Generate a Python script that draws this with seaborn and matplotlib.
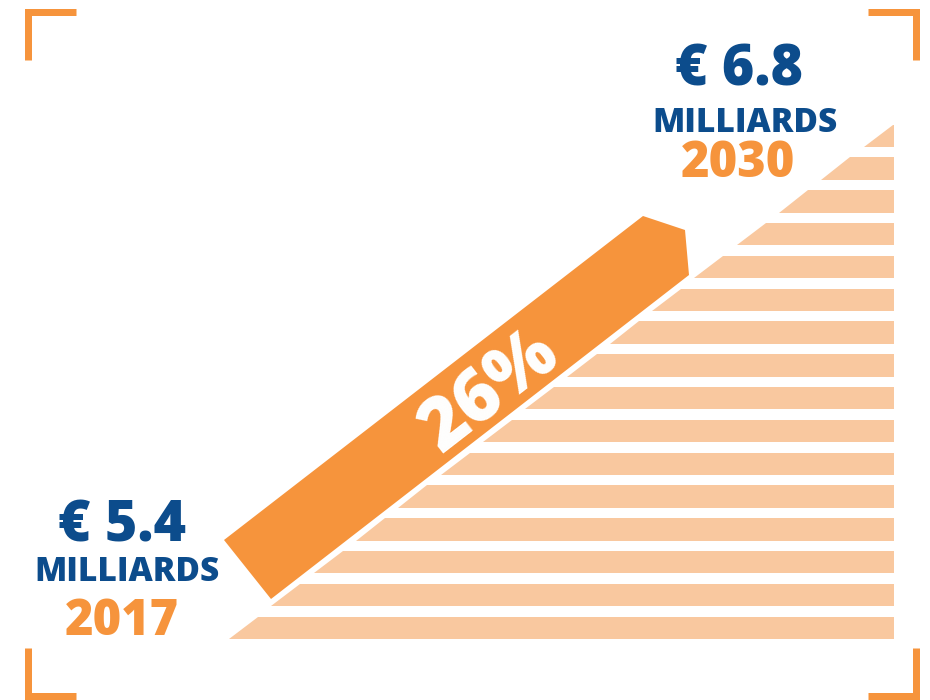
import numpy as np
import matplotlib
matplotlib.use("Agg")
import matplotlib.pyplot as plt
import seaborn as sns

# donnees du visuel
years = ["2017", "2030"]
amounts = ["€ 5.4", "€ 6.8"]
unit = "MILLIARDS"
growth = "26%"

# couleurs
blue = "#0c4c8c"
orange = "#f6943c"
light = "#f9c89f"

sns.set_theme(style="white")
plt.rcParams["font.family"] = ["Open Sans", "DejaVu Sans"]

fig = plt.figure(figsize=(9.3, 7), dpi=100)
ax = fig.add_axes([0, 0, 1, 1])
ax.set_xlim(0, 930)
ax.set_ylim(700, 0)
ax.axis("off")

# triangle de bandes (gauche sur la diagonale)
n_stripes = 16
x0, y0 = 229, 639      # bas gauche de la diagonale
slope = 1.29           # dx / dy
right = 894
top0, step, h = 124.5, 32.8, 22.5

def diag(y):
    return min(x0 + (y0 - y) * slope, right)

for i in range(n_stripes):
    t = top0 + i * step
    b = t + h
    xs = [diag(t), right, right, diag(b)]
    ys = [t, t, b, b]
    ax.fill(xs, ys, color=light, lw=0)

# fleche orange
arrow_x = [224, 643, 685, 689, 271]
arrow_y = [540, 216, 230, 275, 599]
ax.fill(arrow_x, arrow_y, color=orange, lw=0)
ang = np.degrees(np.arctan(1 / slope))
ax.text(490, 392, growth, color="white", fontsize=52, fontweight=800,
        rotation=ang, rotation_mode="anchor", ha="center", va="center")

# textes
w = 800
ax.text(122, 527, amounts[0], color=blue, fontsize=40, fontweight=w,
        ha="center", va="center")
ax.text(127, 572, unit, color=blue, fontsize=24, fontweight=w,
        ha="center", va="center")
ax.text(122, 622, years[0], color=orange, fontsize=35, fontweight=w,
        ha="center", va="center")

ax.text(739, 71, amounts[1], color=blue, fontsize=40, fontweight=w,
        ha="center", va="center")
ax.text(745, 123, unit, color=blue, fontsize=24, fontweight=w,
        ha="center", va="center")
ax.text(738, 164, years[1], color=orange, fontsize=35, fontweight=w,
        ha="center", va="center")

# coins
lw = 7
for cx, cy, sx, sy in [(28, 12, 1, 1), (916, 12, -1, 1),
                       (28, 696, 1, -1), (916, 696, -1, -1)]:
    ax.plot([cx + sx * 48, cx, cx], [cy, cy, cy + sy * 48],
            color=orange, lw=lw * 0.72, solid_joinstyle="miter",
            solid_capstyle="butt")

fig.savefig("out.png", dpi=100)
